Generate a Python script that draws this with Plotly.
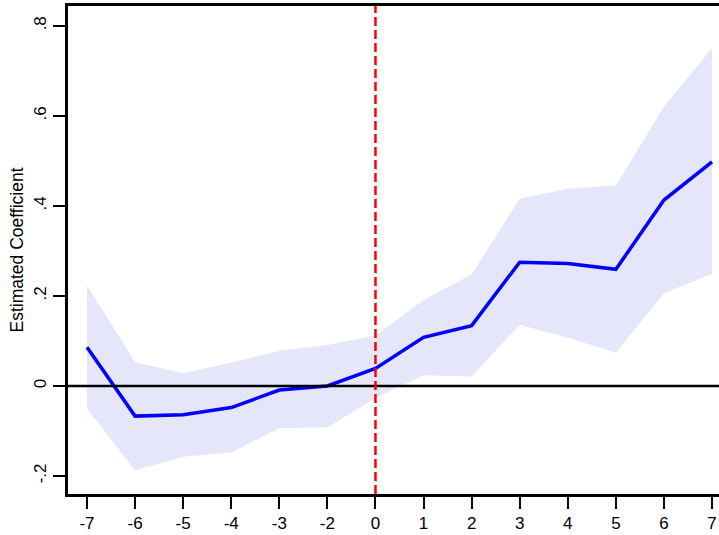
import plotly.graph_objects as go

# Event-study estimates, relative period -1 omitted as the reference
periods = [-7, -6, -5, -4, -3, -2, 0, 1, 2, 3, 4, 5, 6, 7]
coef = [0.086, -0.067, -0.064, -0.048, -0.009, 0.000, 0.039, 0.108, 0.134, 0.275, 0.272, 0.259, 0.413, 0.498]
ci_upper = [0.223, 0.053, 0.028, 0.052, 0.078, 0.091, 0.112, 0.191, 0.248, 0.416, 0.438, 0.445, 0.621, 0.750]
ci_lower = [-0.050, -0.188, -0.157, -0.148, -0.094, -0.092, -0.027, 0.024, 0.021, 0.136, 0.107, 0.074, 0.206, 0.249]

y_tickvals = [-0.2, 0, 0.2, 0.4, 0.6, 0.8]
y_ticktext = ["-.2", "0", ".2", ".4", ".6", ".8"]

x = [str(p) for p in periods]
font = dict(family="Liberation Sans, Arial, sans-serif", size=17, color="black")
title_font = dict(family="Liberation Sans, Arial, sans-serif", size=17.5, color="black")

fig = go.Figure()

# 95% confidence band
fig.add_trace(go.Scatter(
    x=x + x[::-1],
    y=ci_upper + ci_lower[::-1],
    fill="toself",
    fillcolor="#E6E6FA",
    line=dict(width=0),
    mode="lines",
    hoverinfo="skip",
    showlegend=False,
))

# point estimates
fig.add_trace(go.Scatter(
    x=x, y=coef,
    mode="lines",
    line=dict(color="#0000FF", width=3.5),
    showlegend=False,
))

# zero reference line
fig.add_shape(type="line", xref="paper", x0=0, x1=1, yref="y", y0=0, y1=0,
              line=dict(color="black", width=2.5))
# treatment timing (category position of period 0)
event_pos = periods.index(0)
fig.add_shape(type="line", xref="x", x0=event_pos, x1=event_pos, yref="paper", y0=0, y1=1,
              line=dict(color="#FF0000", width=2.5, dash="9px,4px"))

fig.update_layout(
    width=719, height=535,
    margin=dict(l=68, r=0, t=6, b=41),
    plot_bgcolor="white",
    paper_bgcolor="white",
    font=font,
    xaxis=dict(
        type="category",
        range=[-0.395, 13.145],
        showgrid=False, zeroline=False,
        showline=True, linecolor="black", linewidth=2.5, mirror=True,
        ticks="outside", ticklen=12, tickwidth=2, tickcolor="black",
        tickfont=font,
    ),
    yaxis=dict(
        range=[-0.24, 0.844],
        tickvals=y_tickvals, ticktext=y_ticktext,
        tickangle=-90,
        showgrid=False, zeroline=False,
        showline=True, linecolor="black", linewidth=2.5,
        ticks="outside", ticklen=12, tickwidth=2, tickcolor="black",
        tickfont=font,
        title=dict(text="Estimated Coefficient", font=title_font, standoff=4),
    ),
)

fig.write_html("out.html")
